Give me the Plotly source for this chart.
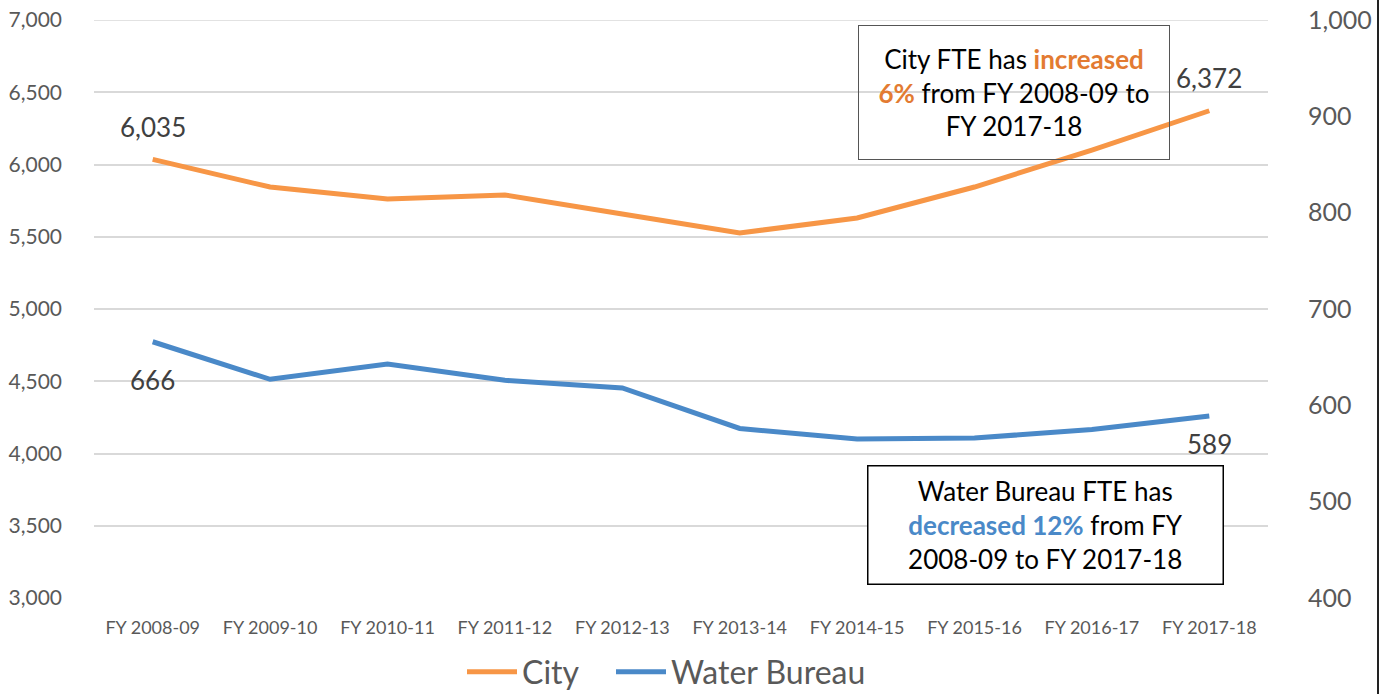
import plotly.graph_objects as go

categories = ["FY 2008-09", "FY 2009-10", "FY 2010-11", "FY 2011-12", "FY 2012-13",
              "FY 2013-14", "FY 2014-15", "FY 2015-16", "FY 2016-17", "FY 2017-18"]
city = [6035, 5844, 5761, 5789, 5657, 5526, 5630, 5844, 6100, 6372]
water = [666, 627, 643, 626, 618, 576, 565, 566, 575, 589]
left_ticks = [3000, 3500, 4000, 4500, 5000, 5500, 6000, 6500, 7000]
right_ticks = [400, 500, 600, 700, 800, 900, 1000]

ORANGE = "#F79646"
BLUE = "#4A89C8"
GREY = "#595959"
FONT = "Lato, 'Open Sans', sans-serif"

W, H = 1382, 694
L, T = 94, 20
R = W - 1268
B = H - 598
PW, PH = W - L - R, H - T - B

def px(xp):
    return (xp - L) / PW

def py(yp):
    return (H - B - yp) / PH

fig = go.Figure()
fig.add_trace(go.Scatter(x=categories, y=city, name="City", mode="lines",
                         line=dict(color=ORANGE, width=5), yaxis="y", legend="legend"))
fig.add_trace(go.Scatter(x=categories, y=water, name="Water Bureau", mode="lines",
                         line=dict(color=BLUE, width=5), yaxis="y2", legend="legend2"))

lab = dict(size=26, color="#404040", family=FONT)
fig.add_annotation(x=categories[0], y=city[0], text=f"{city[0]:,}", showarrow=False,
                   yshift=32, font=lab, yref="y")
fig.add_annotation(x=categories[-1], y=city[-1], text=f"{city[-1]:,}", showarrow=False,
                   yshift=33, font=lab, yref="y")
fig.add_annotation(x=categories[0], y=water[0], text=f"{water[0]:,}", showarrow=False,
                   yshift=-38, font=lab, yref="y2")
fig.add_annotation(x=categories[-1], y=water[-1], text=f"{water[-1]:,}", showarrow=False,
                   yshift=-28, font=lab, yref="y2")

pad = 3
fig.add_annotation(xref="paper", yref="paper", x=px(1014), y=py(92.5),
                   xanchor="center", yanchor="middle",
                   text="City FTE has <b><span style='color:#E37B32'>increased</span></b><br>"
                        "<b><span style='color:#E37B32'>6%</span></b> from FY 2008-09 to<br>FY 2017-18",
                   showarrow=False, align="center", font=dict(size=26, color="black", family=FONT),
                   bordercolor="#555555", borderwidth=1, borderpad=pad, bgcolor="rgba(255,255,255,0)",
                   width=312 - 2 * pad - 2, height=135 - 2 * pad - 2)
fig.add_annotation(xref="paper", yref="paper", x=px(1045.5), y=py(525),
                   xanchor="center", yanchor="middle",
                   text="Water Bureau FTE has<br><b><span style='color:#4A89C8'>decreased 12%</span></b> from FY<br>"
                        "2008-09 to FY 2017-18",
                   showarrow=False, align="center", font=dict(size=26, color="black", family=FONT),
                   bordercolor="black", borderwidth=1.5, borderpad=pad, bgcolor="white",
                   width=357 - 2 * pad - 3, height=120 - 2 * pad - 3)

# top gridline at the upper edge of the plot area
fig.add_shape(type="line", xref="paper", yref="y", x0=0, x1=1, y0=left_ticks[-1], y1=left_ticks[-1],
              line=dict(color="#D9D9D9", width=1.5), layer="below")
# outer frame edge visible at right side of the reference
fig.add_shape(type="line", xref="paper", yref="paper", x0=px(1378), x1=px(1378),
              y0=py(694), y1=py(0), line=dict(color="#222222", width=2))

leg_common = dict(orientation="h", xanchor="left", xref="container",
                  y=1 - 672 / H, yanchor="middle", yref="container",
                  font=dict(size=32, color=GREY, family=FONT), itemwidth=50)

fig.update_layout(
    width=W, height=H,
    margin=dict(l=L, r=R, t=T, b=B, autoexpand=False),
    paper_bgcolor="white", plot_bgcolor="white",
    font=dict(family=FONT, color=GREY),
    xaxis=dict(range=[-0.5, 9.5], showgrid=False, showline=False, ticks="",
               tickfont=dict(size=18, color=GREY), automargin=False, ticklabelstandoff=17),
    yaxis=dict(range=[2999.99, 7000.01], tickvals=left_ticks,
               tickformat=",", gridcolor="#D9D9D9", gridwidth=1.5,
               showline=False, zeroline=False, ticks="", tickfont=dict(size=21, color=GREY),
               ticklabelstandoff=31, automargin=False, ticklabeloverflow="allow"),
    yaxis2=dict(range=[399.999, 1000.001], tickvals=right_ticks,
                tickformat=",", overlaying="y", side="right",
                showgrid=False, showline=False, zeroline=False, ticks="",
                tickfont=dict(size=25, color=GREY), ticklabelstandoff=39, automargin=False,
                ticklabeloverflow="allow"),
    legend=dict(x=462 / W, **leg_common),
    legend2=dict(x=611 / W, **leg_common),
    showlegend=True,
)

fig.write_html("out.html", config={"displayModeBar": False},
               post_script="document.body.style.margin='0';")
